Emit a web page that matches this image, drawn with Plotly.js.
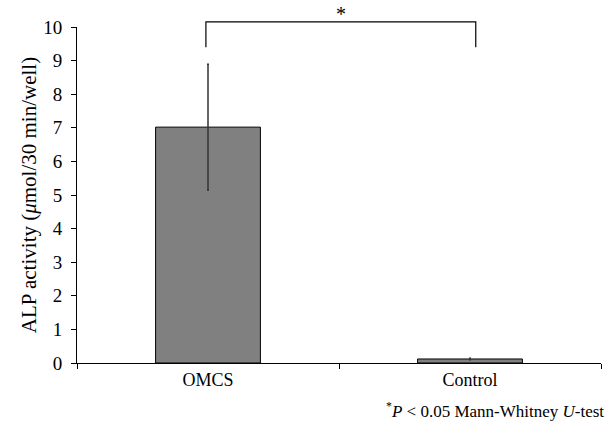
<!DOCTYPE html>
<html>
<head>
<meta charset="utf-8">
<script src="https://cdn.plot.ly/plotly-3.0.1.min.js"></script>
<style>html,body{margin:0;padding:0;background:#fff;}#chart{width:613px;height:433px;}</style>
</head>
<body>
<div id="chart"></div>
<script>
const categories = ["OMCS", "Control"];
const alpActivity = [7.02, 0.12];
const alpError = [1.87, 0.02];
const yTickValues = [0, 1, 2, 3, 4, 5, 6, 7, 8, 9, 10];
const significanceLabel = "*";
const footnote = "<sup>*</sup><i>P</i> &lt; 0.05 Mann-Whitney <i>U</i>-test";

const font = {family: "Liberation Serif, Times New Roman, serif", color: "#000"};

const trace = {
  type: "bar",
  x: categories,
  y: alpActivity,
  width: 0.4,
  marker: {color: "#808080", line: {color: "#000", width: 1}},
  error_y: {type: "data", array: alpError, visible: true, color: "#333", thickness: 1.5, width: 1},
  hoverinfo: "skip"
};

// bracket in paper coordinates derived from y range [0, 10]
const yMax = 10;
const bracketTop = 10.15 / yMax, bracketLeg = 9.4 / yMax;
const bx0 = 0.246, bx1 = 0.761;

const layout = {
  width: 613, height: 433,
  margin: {l: 77, r: 12, t: 27, b: 70},
  paper_bgcolor: "#fff", plot_bgcolor: "#fff",
  font: Object.assign({size: 17}, font),
  showlegend: false,
  bargap: 0.6,
  xaxis: {
    type: "category",
    tickson: "boundaries",
    ticks: "outside", ticklen: 5, tickcolor: "#000",
    showline: true, linecolor: "#000", linewidth: 1,
    showgrid: false, zeroline: false,
    tickfont: Object.assign({size: 18}, font),
    range: [-0.5, 1.5]
  },
  yaxis: {
    range: [0, yMax],
    tickvals: yTickValues,
    ticks: "outside", ticklen: 5, tickcolor: "#000",
    showline: true, linecolor: "#000", linewidth: 1,
    showgrid: false, zeroline: false,
    ticklabelstandoff: 5,
    tickfont: Object.assign({size: 19}, font),
    title: {text: "ALP activity (<i>μ</i>mol/30 min/well)", font: Object.assign({size: 21}, font), standoff: 0}
  },
  shapes: [
    {type: "path", xref: "paper", yref: "paper",
     path: `M ${bx0} ${bracketLeg} L ${bx0} ${bracketTop} L ${bx1} ${bracketTop} L ${bx1} ${bracketLeg}`,
     line: {color: "#000", width: 1.2}}
  ],
  annotations: [
    {xref: "paper", yref: "paper", x: (bx0 + bx1) / 2, y: bracketTop, yanchor: "bottom", yshift: -5,
     text: significanceLabel, showarrow: false, font: Object.assign({size: 20}, font)},
    {xref: "paper", yref: "paper", x: 1.01, y: -0.14, xanchor: "right", yanchor: "middle",
     text: footnote, showarrow: false, font: Object.assign({size: 17}, font)}
  ]
};

Plotly.newPlot("chart", [trace], layout, {displayModeBar: false, staticPlot: true});
</script>
</body>
</html>
